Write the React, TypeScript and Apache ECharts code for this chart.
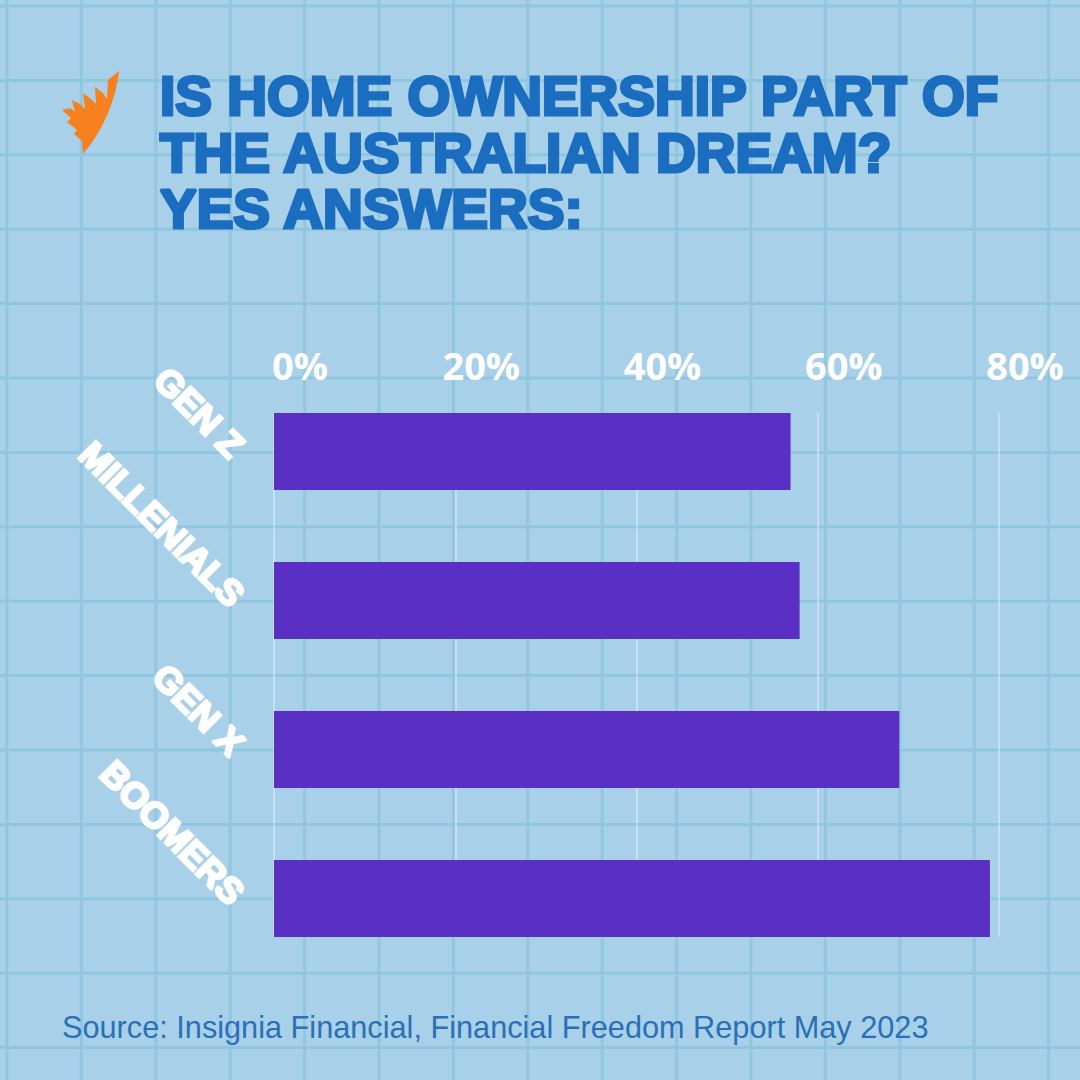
import React, { useEffect, useRef } from "react";
import * as echarts from "echarts";

// ---- data ----
const categories = ["GEN Z", "MILLENIALS", "GEN X", "BOOMERS"];
const yesShare = [57, 58, 69, 79];
const axisMin = 0;
const axisMax = 80;
const axisStep = 20;
const titleLines = ["IS HOME OWNERSHIP PART OF", "THE AUSTRALIAN DREAM?", "YES ANSWERS:"];
const sourceNote = "Source: Insignia Financial, Financial Freedom Report May 2023";

const LOGO_D =
  "M57,0 C54,28 42,58 21,83 L20,70 L12,63 L15,59 L5,51 L9,47 L0,39 L8,37 L13,41 L10,29 L18,33 L23,38 L21,22 L29,28 L34,33 L33,16 L41,22 L45,28 L46,9 Z";

let logoRegistered = false;
function ensureLogo() {
  if (logoRegistered) return;
  echarts.graphic.registerShape("logo", echarts.graphic.extendPath(LOGO_D, {}));
  logoRegistered = true;
}

const BG = "#a9d0e9";
const PAPER_LINE = "#90c7df";
const TITLE_BLUE = "#1a6dbf";
const BAR_PURPLE = "#5a2fc4";

const W = 1080;
const H = 1080;
const GRID_LEFT = 274;
const GRID_RIGHT = 81;

function paperGrid() {
  const els: any[] = [];
  const step = 74.4;
  for (let i = 0; i < 16; i++) {
    const p = 7 + i * step;
    els.push({
      type: "line",
      z: -10,
      silent: true,
      shape: { x1: p, y1: 0, x2: p, y2: H },
      style: { stroke: PAPER_LINE, lineWidth: 3 },
    });
    els.push({
      type: "line",
      z: -10,
      silent: true,
      shape: { x1: 0, y1: p - 1, x2: W, y2: p - 1 },
      style: { stroke: PAPER_LINE, lineWidth: 3 },
    });
  }
  return els;
}

export default function App() {
  const ref = useRef<HTMLDivElement>(null);

  useEffect(() => {
    if (!ref.current) return;
    ensureLogo();
    const chart = echarts.init(ref.current, null, { renderer: "svg", width: W, height: H });

    const option: any = {
      animation: false,
      backgroundColor: BG,
      graphic: [
        ...paperGrid(),
        {
          type: "logo",
          x: 62,
          y: 71,
          scaleX: 1,
          scaleY: 1,
          z: 5,
          style: { fill: "#f7801f" },
        },
        {
          type: "text",
          x: 160,
          y: 68,
          z: 5,
          style: {
            text: titleLines.join("\n"),
            fill: TITLE_BLUE,
            font: "bold 55px 'Liberation Sans', Arial, sans-serif",
            lineHeight: 56.5,
            stroke: TITLE_BLUE,
            lineWidth: 3.2,
            textVerticalAlign: "top",
            verticalAlign: "top",
          },
        },
        {
          type: "text",
          x: 62,
          y: 1027,
          z: 5,
          style: {
            text: sourceNote,
            fill: "#2a70b6",
            font: "30.7px 'Liberation Sans', Arial, sans-serif",
            textVerticalAlign: "middle",
            verticalAlign: "middle",
          },
        },
      ],
      grid: [
        { left: GRID_LEFT, right: GRID_RIGHT, top: 413, bottom: H - 937 },
        { left: GRID_LEFT, right: GRID_RIGHT, top: 377, bottom: H - 973 },
      ],
      xAxis: [
        {
          gridIndex: 0,
          type: "value",
          position: "top",
          min: axisMin,
          max: axisMax,
          interval: axisStep,
          axisLine: { show: false },
          axisTick: { show: false },
          splitLine: { show: true, lineStyle: { color: "rgba(255,255,255,0.45)", width: 1.5 } },
          axisLabel: {
            formatter: "{value}%",
            color: "#ffffff",
            fontFamily: "'Open Sans', Roboto, sans-serif",
            fontWeight: "bold",
            fontSize: 38,
            margin: 29,
            align: "center",
            padding: [0, 0, 0, 52],
            showMaxLabel: true,
            showMinLabel: true,
          },
        },
        {
          gridIndex: 1,
          type: "value",
          min: axisMin,
          max: axisMax,
          interval: axisStep,
          show: false,
          splitLine: { show: false },
        },
      ],
      yAxis: [
        {
          gridIndex: 0,
          type: "category",
          data: categories,
          show: false,
        },
        {
          gridIndex: 1,
          type: "category",
          data: categories,
          inverse: true,
          axisLine: { show: false },
          axisTick: { show: false },
          splitLine: { show: false },
          axisLabel: {
            rotate: -45,
            margin: 36,
            color: "#ffffff",
            fontFamily: "'Liberation Sans', Arial, sans-serif",
            fontWeight: "bold",
            fontSize: 36,
            textBorderColor: "#ffffff",
            textBorderWidth: 2.5,
            padding: [0, 0, 10, 0],
          },
        },
      ],
      series: [
        {
          type: "bar",
          xAxisIndex: 1,
          yAxisIndex: 1,
          data: yesShare,
          barWidth: 77,
          itemStyle: { color: BAR_PURPLE },
          label: { show: false },
        },
      ],
    };

    chart.setOption(option);
    return () => chart.dispose();
  }, []);

  return (
    <div
      ref={ref}
      style={{ position: "fixed", left: 0, top: 0, width: W, height: H }}
    />
  );
}
